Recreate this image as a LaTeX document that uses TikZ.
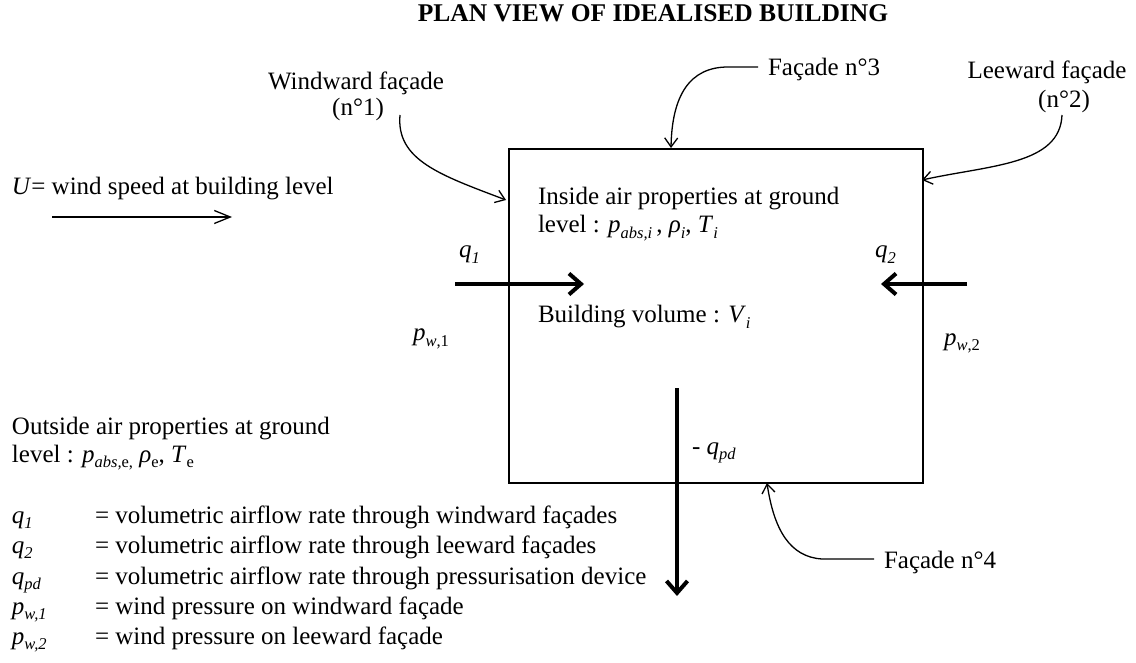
\documentclass[tikz,border=0pt]{standalone}
\usepackage{fontspec}
\setmainfont{Liberation Serif}
\usetikzlibrary{arrows.meta}
\newcommand\lo[1]{\raisebox{-0.22em}{\fontsize{16.5}{16.5}\selectfont #1}}
\tikzset{
  txt/.style={inner sep=0pt, outer sep=0pt, font=\fontsize{25}{29}\selectfont},
  callout/.style={line width=1.3pt, -{Straight Barb[length=9pt,width=13pt]}},
  windarrow/.style={line width=1.3pt, -{Straight Barb[length=16pt,width=13pt]}},
  flow/.style={line width=4pt, -{Straight Barb[length=12pt,width=21pt]}},
  building/.style={draw, line width=1.6pt, minimum width=414pt, minimum height=334pt, inner sep=0pt, anchor=north west},
}
\begin{document}
\begin{tikzpicture}[x=1pt,y=-1pt]
\useasboundingbox[fill=white] (0,0) rectangle (1136,663);

% title
\node[txt, font=\bfseries\fontsize{25.5}{29}\selectfont, anchor=base] (title) at (653,22) {PLAN VIEW OF IDEALISED BUILDING};

% building
\node[building] (bld) at (508,148) {};

% facade labels
\node[txt, anchor=base] (ww) at (356,90) {Windward façade};
\node[txt, anchor=base] (n1) at (358,116) {(n°1)};
\node[txt, anchor=base west] (f3) at (768,76) {Façade n°3};
\node[txt, anchor=base] (lw) at (1047,79) {Leeward façade};
\node[txt, anchor=base] (n2) at (1064,108) {(n°2)};
\node[txt, anchor=base west] (f4) at (884,568) {Façade n°4};

% callout end points
\coordinate (w1s) at (400,115);
\coordinate (w1e) at (506,200);
\coordinate (f3s) at (758,67);
\coordinate (f3e) at (671,148);
\coordinate (f2s) at (1062,115);
\coordinate (f2e) at (922,180);
\coordinate (f4s) at (874,559);
\coordinate (f4e) at (767,483);

\draw[callout] (w1s) .. controls (396,160) and (440,175) .. (w1e);
\draw[callout] (f3s) -- (728,67) .. controls (690,67) and (672,95) .. (f3e);
\draw[callout] (f2s) .. controls (1060,165) and (990,165) .. (f2e);
\draw[callout] (f4s) -- (822,559) .. controls (790,557) and (774,530) .. (f4e);

% wind speed
\node[txt, anchor=base west] (U) at (12,195) {\textit{U}= wind speed at building level};
\coordinate (ua) at (52,217);
\coordinate (ub) at (232,217);
\draw[windarrow] (ua) -- (ub);

% inside properties
\node[txt, anchor=base west] (in1) at (538,205) {Inside air properties at ground};
\node[txt, anchor=base west] (in2) at (538,233) {level : \textit{p}\lo{\textit{abs,i}}\,, \textit{ρ}\lo{\textit{i}}, \textit{T}\lo{\textit{i}}};
\node[txt, anchor=base west] (vol) at (538,323) {Building volume : \textit{V}\lo{\textit{i}}};

% flows
\node[txt, anchor=base west] (q1) at (459,258) {\textit{q}\lo{\textit{1}}};
\node[txt, anchor=base west] (q2) at (875,258) {\textit{q}\lo{\textit{2}}};
\node[txt, anchor=base west] (pw1) at (413,341) {\textit{p}\lo{\textit{w},1}};
\node[txt, anchor=base west] (pw2) at (944,345) {\textit{p}\lo{\textit{w},2}};
\node[txt, anchor=base west] (qpd) at (692,454) {- \textit{q}\lo{\textit{pd}}};

\coordinate (q1a) at (455,284);
\coordinate (q1b) at (584,284);
\coordinate (q2a) at (967,284);
\coordinate (q2b) at (881,284);
\coordinate (pda) at (677,388);
\coordinate (pdb) at (677,596);
\draw[flow] (q1a) -- (q1b);
\draw[flow] (q2a) -- (q2b);
\draw[flow] (pda) -- (pdb);

% outside properties
\node[txt, anchor=base west] (out1) at (12,434) {Outside air properties at ground};
\node[txt, anchor=base west] (out2) at (12,462) {level : \textit{p}\lo{\textit{abs,}e,} \textit{ρ}\lo{e}, \textit{T}\lo{e}};

% legend
\node[txt, anchor=base west] (l1) at (12,523) {\textit{q}\lo{\textit{1}}};
\node[txt, anchor=base west] (l2) at (12,553) {\textit{q}\lo{\textit{2}}};
\node[txt, anchor=base west] (l3) at (12,584) {\textit{q}\lo{\textit{pd}}};
\node[txt, anchor=base west] (l4) at (12,614) {\textit{p}\lo{\textit{w,1}}};
\node[txt, anchor=base west] (l5) at (12,644) {\textit{p}\lo{\textit{w,2}}};
\node[txt, anchor=base west] (d1) at (95,523) {= volumetric airflow rate through windward façades};
\node[txt, anchor=base west] (d2) at (95,553) {= volumetric airflow rate through leeward façades};
\node[txt, anchor=base west] (d3) at (95,584) {= volumetric airflow rate through pressurisation device};
\node[txt, anchor=base west] (d4) at (95,614) {= wind pressure on windward façade};
\node[txt, anchor=base west] (d5) at (95,644) {= wind pressure on leeward façade};
\end{tikzpicture}
\end{document}
